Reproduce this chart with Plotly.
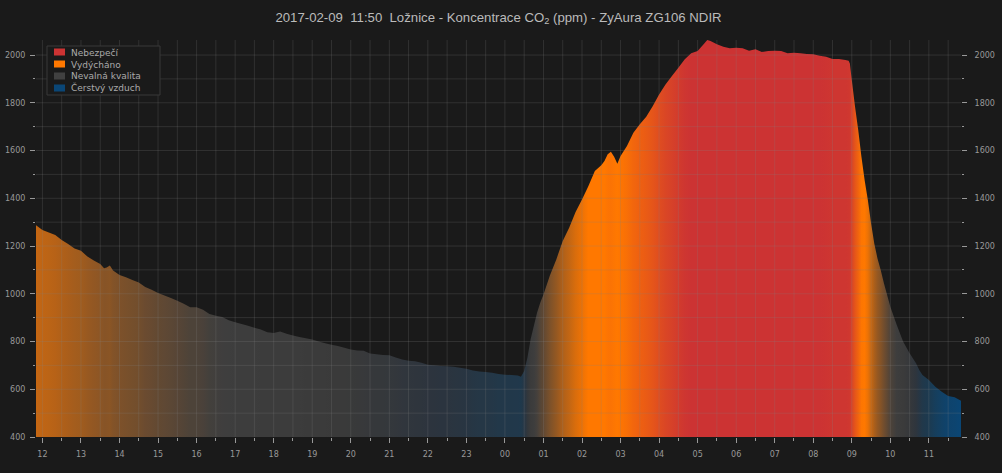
import pandas as pd
import plotly.graph_objects as go

# CO2 readings (ppm); clock wraps past midnight
clock = [
    "11:50", "12:00", "12:10", "12:20", "12:30", "12:40", "12:50",
    "13:00", "13:10", "13:20", "13:30", "13:36", "13:40", "13:45", "13:50",
    "14:00", "14:10", "14:20", "14:30", "14:40", "14:50",
    "15:00", "15:10", "15:20", "15:30", "15:40", "15:50",
    "16:00", "16:10", "16:20", "16:30", "16:40", "16:50",
    "17:00", "17:10", "17:20", "17:30", "17:40", "17:50",
    "18:00", "18:10", "18:20", "18:30", "18:40", "18:50",
    "19:00", "19:10", "19:20", "19:30", "19:40", "19:50",
    "20:00", "20:10", "20:20", "20:30", "20:40", "20:50",
    "21:00", "21:10", "21:20", "21:30", "21:40", "21:50",
    "22:00", "22:10", "22:20", "22:30", "22:40", "22:50",
    "23:00", "23:10", "23:20", "23:30", "23:40", "23:50",
    "00:00", "00:10", "00:20", "00:25", "00:30", "00:35", "00:40", "00:45", "00:50", "00:55",
    "01:00", "01:10", "01:20", "01:30", "01:40", "01:50",
    "02:00", "02:10", "02:20", "02:30", "02:35", "02:40", "02:45", "02:50", "02:55",
    "03:00", "03:10", "03:20", "03:30", "03:40", "03:50",
    "04:00", "04:10", "04:20", "04:30", "04:40", "04:50",
    "05:00", "05:10", "05:15", "05:20", "05:30", "05:40", "05:50",
    "06:00", "06:10", "06:20", "06:30", "06:40", "06:50",
    "07:00", "07:10", "07:20", "07:30", "07:40", "07:50",
    "08:00", "08:10", "08:20", "08:30", "08:40", "08:50", "08:55", "08:57",
    "09:00", "09:05", "09:10", "09:15", "09:20", "09:25", "09:30", "09:35", "09:40", "09:45", "09:50",
    "10:00", "10:10", "10:20", "10:30", "10:40", "10:45", "10:50",
    "11:00", "11:10", "11:20", "11:30", "11:40", "11:50",
]
ppm = [
    1287, 1267, 1257, 1246, 1225, 1208, 1190,
    1180, 1156, 1139, 1125, 1107, 1110, 1118, 1097,
    1079, 1069, 1058, 1047, 1028, 1017,
    1003, 993, 982, 971, 958, 944,
    944, 933, 915, 908, 903, 889,
    881, 873, 866, 858, 850, 839,
    836, 842, 832, 825, 819, 814,
    808, 800, 793, 786, 781, 774,
    767, 762, 761, 750, 747, 744,
    742, 733, 725, 719, 717, 711,
    703, 701, 697, 696, 694, 690,
    686, 679, 674, 672, 669, 664,
    661, 660, 658, 652, 676, 732, 809, 865, 920, 962,
    997, 1077, 1144, 1221, 1277, 1342,
    1395, 1451, 1514, 1538, 1556, 1584, 1595, 1574, 1545,
    1577, 1619, 1675, 1710, 1742, 1786,
    1835, 1877, 1912, 1947, 1982, 2007,
    2017, 2047, 2063, 2059, 2045, 2035, 2028,
    2031, 2028, 2018, 2024, 2013, 2017,
    2018, 2017, 2008, 2010, 2007, 2004,
    2003, 1997, 1993, 1983, 1983, 1979, 1976, 1965,
    1895, 1784, 1686, 1574, 1476, 1393, 1295, 1211, 1148, 1100, 1044,
    946, 869, 799, 751, 709, 681, 660,
    639, 611, 590, 572, 566, 552,
]

legend_names = ["Nebezpečí", "Vydýcháno", "Nevalná kvalita", "Čerstvý vzduch"]
legend_colors = ["#cc3333", "#ff7800", "#404040", "#0a4676"]

# value -> colour ramp used for the fill
level_ppm = [550, 640, 700, 770, 900, 1450, 1560, 2000]
level_rgb = ["#0a4676", "#1c3a50", "#2c343e", "#3a3a3a", "#3e3e3e", "#ff7800", "#ff7800", "#cc3333"]

BG = "#1a1a1a"
TICK = "#999999"
GRID = "rgba(130,130,130,0.22)"


def hex2rgb(h):
    return [int(h[i:i + 2], 16) for i in (1, 3, 5)]


def level_color(v):
    v = min(max(v, level_ppm[0]), level_ppm[-1])
    for i in range(1, len(level_ppm)):
        if v <= level_ppm[i]:
            f = (v - level_ppm[i - 1]) / (level_ppm[i] - level_ppm[i - 1])
            a, b = hex2rgb(level_rgb[i - 1]), hex2rgb(level_rgb[i])
            return "rgb(%d,%d,%d)" % tuple(round(a[k] + (b[k] - a[k]) * f) for k in range(3))
    return level_rgb[-1]


stamps = []
day = pd.Timestamp("2017-02-08")
for c in clock:
    t = pd.Timestamp(f"{day.date()} {c}")
    if stamps and t < stamps[-1]:
        day += pd.Timedelta(days=1)
        t += pd.Timedelta(days=1)
    stamps.append(t)

span = (stamps[-1] - stamps[0]).total_seconds()
scale = [[(t - stamps[0]).total_seconds() / span, level_color(v)] for t, v in zip(stamps, ppm)]

fig = go.Figure()
fig.add_trace(go.Scatter(
    x=stamps, y=ppm,
    mode="none", fill="tozeroy",
    fillgradient=dict(type="horizontal", colorscale=scale),
    showlegend=False, hoverinfo="x+y",
))
# invisible twin so the right-hand axis gets drawn
fig.add_trace(go.Scatter(
    x=stamps, y=ppm, yaxis="y2", mode="none",
    showlegend=False, hoverinfo="skip",
))

y_range = [400, 2063]

# grid drawn over the area, like the original
shapes = []
for v in range(500, 2001, 100):
    shapes.append(dict(type="line", xref="paper", yref="y", x0=0, x1=1, y0=v, y1=v,
                       line=dict(color=GRID, width=1), layer="above"))
for t in pd.date_range(stamps[0].ceil("30min"), stamps[-1], freq="30min"):
    shapes.append(dict(type="line", xref="x", yref="paper", x0=t, x1=t, y0=0, y1=1,
                       line=dict(color=GRID, width=1), layer="above"))


# compact legend box (plot area in pixels: x 36..961, y 40..437)
def px(x):
    return (x - 36) / 925


def py(y):
    return (437 - y) / 397


shapes.append(dict(type="rect", xref="paper", yref="paper",
                   x0=px(47), x1=px(160), y0=py(95), y1=py(46),
                   fillcolor=BG, line=dict(color="#383838", width=1), layer="above"))
for i, col in enumerate(legend_colors):
    cy = 52 + 12 * i
    shapes.append(dict(type="rect", xref="paper", yref="paper",
                       x0=px(54), x1=px(65), y0=py(cy + 3.5), y1=py(cy - 3.5),
                       fillcolor=col, line=dict(width=0), layer="above"))

annotations = [dict(
    xref="paper", yref="paper", x=px(69), y=py(46),
    xanchor="left", yanchor="top", align="left", showarrow=False,
    text="<br>".join(legend_names),
    font=dict(family="DejaVu Sans", size=9, color="#aaaaaa"),
)]

axis_font = dict(family="DejaVu Sans", size=8, color=TICK)

fig.update_layout(
    width=1002, height=473,
    paper_bgcolor=BG, plot_bgcolor=BG,
    margin=dict(l=36, r=41, t=40, b=36, autoexpand=False),
    title=dict(
        text="2017-02-09\u00a0\u00a011:50\u00a0\u00a0Ložnice - Koncentrace CO<sub>2</sub> (ppm) - ZyAura ZG106 NDIR",
        x=0.5, xref="paper", xanchor="center", y=1 - 17 / 473, yref="container", yanchor="middle",
        font=dict(family="Liberation Sans", size=13.2, color="#bbbbbb"),
    ),
    xaxis=dict(
        type="date", range=[stamps[0], stamps[-1]], automargin=False,
        tick0="2017-02-08 00:00", dtick=3600000, tickformat="%H",
        ticks="outside", ticklen=5, tickcolor=TICK, tickfont=axis_font, ticklabelstandoff=4,
        showgrid=False, zeroline=False, showline=False,
        minor=dict(dtick=1800000, ticks="outside", ticklen=3, tickcolor=TICK, showgrid=False),
    ),
    yaxis=dict(
        range=y_range, tick0=0, dtick=200, automargin=False,
        ticks="outside", ticklen=5, tickcolor=TICK, tickfont=axis_font, ticklabelstandoff=3,
        showgrid=False, zeroline=False, showline=False,
        minor=dict(dtick=100, ticks="outside", ticklen=2, tickcolor=TICK, showgrid=False),
    ),
    yaxis2=dict(
        overlaying="y", side="right", range=y_range, tick0=0, dtick=200, automargin=False,
        ticks="outside", ticklen=5, tickcolor=TICK, tickfont=axis_font, ticklabelstandoff=6,
        showgrid=False, zeroline=False, showline=False,
        minor=dict(dtick=100, ticks="outside", ticklen=2, tickcolor=TICK, showgrid=False),
    ),
    shapes=shapes,
    annotations=annotations,
    showlegend=False,
)

# drop the default 8px page margin so the figure sits at the window's corner
fig.write_html("out.html", config={"displayModeBar": False},
               post_script="document.body.style.margin='0';")
